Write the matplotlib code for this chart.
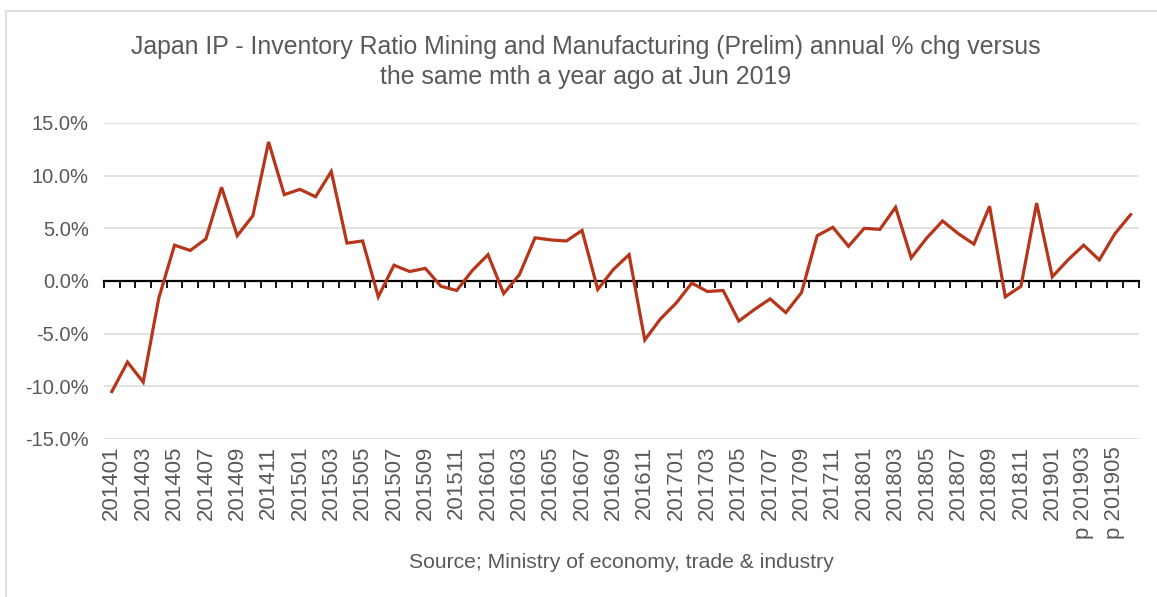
import matplotlib
matplotlib.use("Agg")
import matplotlib.pyplot as plt
from matplotlib.patches import Rectangle
from matplotlib.ticker import FuncFormatter, FixedLocator, NullFormatter

plt.rcParams["font.family"] = ["Liberation Sans", "DejaVu Sans"]

# Monthly categories, Jan 2014 - Jun 2019 (last four are preliminary)
months = [f"{y}{m:02d}" for y in range(2014, 2019) for m in range(1, 13)]
months += ["201901", "201902", "p 201903", "p 201904", "p 201905", "p 201906"]

# Annual % change of the inventory ratio
pct_change = [
    -10.5, -7.7, -9.6, -1.6, 3.4, 2.9, 4.0, 8.9, 4.3, 6.2, 13.2, 8.2,
    8.7, 8.0, 10.4, 3.6, 3.8, -1.5, 1.5, 0.9, 1.2, -0.5, -0.9, 1.0,
    2.5, -1.2, 0.6, 4.1, 3.9, 3.8, 4.8, -0.8, 1.1, 2.5, -5.6, -3.6,
    -2.1, -0.2, -1.0, -0.9, -3.8, -2.7, -1.7, -3.0, -1.1, 4.3, 5.1, 3.3,
    5.0, 4.9, 7.0, 2.2, 4.1, 5.7, 4.5, 3.5, 7.1, -1.5, -0.5, 7.4,
    0.4, 2.0, 3.4, 2.0, 4.5, 6.3,
]

title = ("Japan IP - Inventory Ratio Mining and Manufacturing (Prelim) annual % chg versus\n"
         "the same mth a year ago at Jun 2019")
source = "Source; Ministry of economy, trade & industry"

W, H = 1157, 597
fig = plt.figure(figsize=(W / 100, H / 100), dpi=100)
fig.patch.set_facecolor("white")

# light frame around the chart area
fig.patches.append(Rectangle((6 / W, -0.05), 1.2, (H - 11) / H + 0.05,
                             transform=fig.transFigure, fill=False,
                             edgecolor="#d9d9d9", linewidth=1.2))

rect = [104 / W, 1 - 439 / H, (1138.5 - 104) / W, (439 - 123) / H]
grey = "#595959"
x = list(range(len(months)))
xlim = (-0.5, len(months) - 0.5)

# background axes: gridlines and tick labels
ax = fig.add_axes(rect)
ax.set_xlim(*xlim)
ax.set_ylim(-15, 15)
ax.set_yticks([-15, -10, -5, 0, 5, 10, 15])
ax.yaxis.set_major_formatter(FuncFormatter(lambda v, _: f"{v:.1f}%"))
ax.grid(axis="y", color="#d9d9d9", linewidth=1.1)
for s in ax.spines.values():
    s.set_visible(False)
ax.tick_params(axis="y", length=0, pad=11, labelsize=14.5, labelcolor=grey)
ax.set_xticks(x[::2])
ax.set_xticklabels(months[::2], rotation=90)
ax.tick_params(axis="x", length=0, pad=5, labelsize=16, labelcolor=grey)

# front axes: category axis across the zero level and the data line
zax = fig.add_axes(rect)
zax.patch.set_visible(False)
zax.set_xlim(*xlim)
zax.set_ylim(-15, 15)
for side in ("top", "left", "right"):
    zax.spines[side].set_visible(False)
zax.spines["bottom"].set_position(("data", 0))
zax.spines["bottom"].set_linewidth(1.6)
zax.spines["bottom"].set_color("black")
zax.set_yticks([])
zax.xaxis.set_major_locator(FixedLocator([i - 0.5 for i in range(len(months) + 1)]))
zax.xaxis.set_major_formatter(NullFormatter())
zax.tick_params(axis="x", direction="out", length=5, width=1.3, color="black",
                top=False, bottom=True)

zax.plot(x, pct_change, color="#B5361A", linewidth=2.3, solid_joinstyle="miter", zorder=3)

fig.text(586 / W, 1 - 62 / H, title, ha="center", va="center", fontsize=17.9,
         color=grey, linespacing=1.3)
fig.text(621 / W, 1 - 562 / H, source, ha="center", va="center", fontsize=15.2,
         color=grey)

fig.savefig("out.png", dpi=100, facecolor="white")
